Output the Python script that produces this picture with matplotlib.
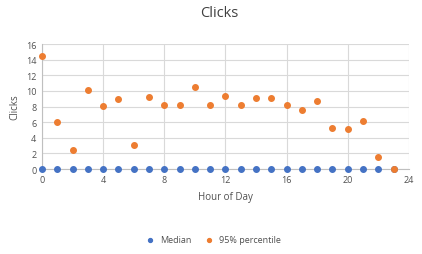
import matplotlib
matplotlib.use("Agg")
import matplotlib.pyplot as plt

# Hour of day and click stats
hours = list(range(0, 24))
median = [0] * 24
p95 = [14.5, 6.0, 2.4, 10.1, 8.05, 9.0, 3.05, 9.2, 8.2, 8.2, 10.45, 8.2,
       9.3, 8.2, 9.15, 9.15, 8.2, 7.55, 8.65, 5.3, 5.15, 6.15, 1.5, 0.0]

BLUE = "#4472C4"
ORANGE = "#ED7D31"
TXT = "#505050"

plt.rcParams["font.family"] = ["Open Sans", "DejaVu Sans"]

fig = plt.figure(figsize=(4.22, 2.55), dpi=100)
ax = fig.add_axes([0.0995, 0.333, 0.8695, 0.4905])

ax.scatter(hours, median, s=16, color=BLUE, label="Median", clip_on=False, zorder=3)
ax.scatter(hours, p95, s=16, color=ORANGE, label="95% percentile", clip_on=False, zorder=4)

ax.set_xlim(0, 24)
ax.set_ylim(0, 16)
ax.set_xticks(range(0, 25, 4))
ax.set_yticks(range(0, 17, 2))
ax.grid(True, color="#D9D9D9", linewidth=0.8)
ax.set_axisbelow(True)
for s in ["top", "right"]:
    ax.spines[s].set_visible(False)
for s in ["left", "bottom"]:
    ax.spines[s].set_color("#BFBFBF")
    ax.spines[s].set_linewidth(0.8)
ax.tick_params(length=0, labelsize=6.5, labelcolor=TXT, pad=4)

ax.set_xlabel("Hour of Day", fontsize=7, color=TXT, labelpad=5)
ax.set_ylabel("Clicks", fontsize=7, color=TXT, labelpad=4)
fig.suptitle("Clicks", x=0.52, y=0.975, fontsize=10.5, color="#404040")

fig.legend(loc="center", bbox_to_anchor=(0.5, 0.055), ncol=2, frameon=False,
           fontsize=6.5, labelcolor=TXT, handletextpad=0.1, columnspacing=1.0,
           markerscale=0.7)

fig.savefig("out.png", dpi=100)
